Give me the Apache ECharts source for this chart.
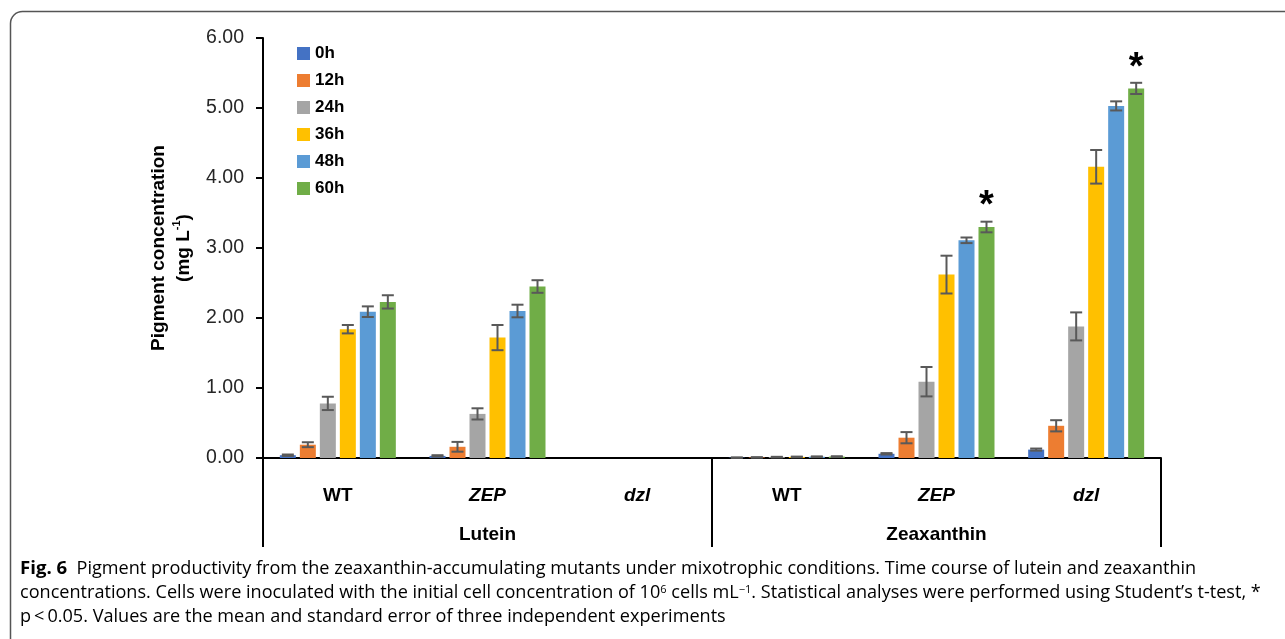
<!DOCTYPE html>
<html>
<head>
<meta charset="utf-8">
<script src="https://cdn.jsdelivr.net/npm/echarts@6/dist/echarts.min.js"></script>
<style>
  html, body { margin: 0; padding: 0; background: #fff; }
  #main { width: 1285px; height: 639px; }
</style>
</head>
<body>
<div id="main"></div>
<script>
// categories: Lutein (WT, ZEP, dzl), Zeaxanthin (WT, ZEP, dzl)
var strains = ['WT', 'ZEP', 'dzl', 'WT', 'ZEP', 'dzl'];
var pigments = ['Lutein', 'Zeaxanthin'];
var times = ['0h', '12h', '24h', '36h', '48h', '60h'];
var yTicks = [0, 1, 2, 3, 4, 5, 6];

var h0  = [0.04, 0.03, 0, 0.005, 0.06, 0.12];
var h12 = [0.19, 0.16, 0, 0.008, 0.29, 0.46];
var h24 = [0.78, 0.63, 0, 0.012, 1.09, 1.88];
var h36 = [1.84, 1.72, 0, 0.015, 2.62, 4.16];
var h48 = [2.09, 2.10, 0, 0.018, 3.11, 5.03];
var h60 = [2.23, 2.45, 0, 0.02, 3.30, 5.28];

var e0  = [0.01, 0.01, 0, 0.004, 0.01, 0.015];
var e12 = [0.035, 0.07, 0, 0.004, 0.08, 0.08];
var e24 = [0.095, 0.08, 0, 0.005, 0.21, 0.2];
var e36 = [0.06, 0.18, 0, 0.005, 0.27, 0.24];
var e48 = [0.076, 0.09, 0, 0.005, 0.04, 0.065];
var e60 = [0.095, 0.09, 0, 0.005, 0.076, 0.08];

var stars = ['', '', '', '', '*', '*'];

var colors = ['#4472C4', '#ED7D31', '#A5A5A5', '#FFC000', '#5B9BD5', '#70AD47'];
var values = [h0, h12, h24, h36, h48, h60];
var errors = [e0, e12, e24, e36, e48, e60];

var BAR_W = 16, BAR_STEP = 20;

var myChart = echarts.init(document.getElementById('main'));

var series = [];
times.forEach(function (t, i) {
    var s = {
        name: t,
        type: 'bar',
        data: values[i],
        barWidth: BAR_W,
        barGap: '25%',
        itemStyle: { color: colors[i] },
        z: 2
    };
    if (i === times.length - 1) {
        s.label = {
            show: true,
            position: 'top',
            distance: 1,
            formatter: function (p) { return stars[p.dataIndex]; },
            fontFamily: 'Liberation Sans',
            fontWeight: 'bold',
            fontSize: 38,
            lineHeight: 38,
            color: '#000'
        };
    }
    series.push(s);
});

times.forEach(function (t, i) {
    var d = values[i].map(function (v, k) { return [k, v, errors[i][k]]; });
    series.push({
        name: 'err ' + t,
        type: 'custom',
        silent: true,
        z: 5,
        data: d,
        renderItem: function (params, api) {
            var k = api.value(0), v = api.value(1), e = api.value(2);
            if (!e) return null;
            var off = (i - 2.5) * BAR_STEP;
            var hi = api.coord([k, v + e]);
            var lo = api.coord([k, v - e]);
            var x = hi[0] + off, cw = 6;
            var st = { stroke: '#595959', lineWidth: 2 };
            return {
                type: 'group',
                children: [
                    { type: 'line', shape: { x1: x, y1: hi[1], x2: x, y2: lo[1] }, style: st },
                    { type: 'line', shape: { x1: x - cw, y1: hi[1], x2: x + cw, y2: hi[1] }, style: st },
                    { type: 'line', shape: { x1: x - cw, y1: lo[1], x2: x + cw, y2: lo[1] }, style: st }
                ]
            };
        }
    });
});

var capFont = 'Open Sans';
var capStyle = { fontFamily: capFont, fontSize: 18.1, color: '#231f20' };

var option = {
    backgroundColor: '#fff',
    animation: false,
    color: colors,
    grid: { left: 263, right: 124, top: 38, bottom: 181, containLabel: false },
    legend: {
        data: times,
        orient: 'vertical',
        left: 292,
        top: 40,
        itemWidth: 13,
        itemHeight: 13,
        itemGap: 10,
        icon: 'rect',
        textStyle: { fontFamily: 'Liberation Sans', fontWeight: 'bold', fontSize: 17, color: '#000' }
    },
    xAxis: [
        {
            type: 'category',
            data: strains,
            position: 'bottom',
            axisLine: { lineStyle: { color: '#000', width: 2 } },
            axisTick: { show: false },
            axisLabel: {
                margin: 28,
                formatter: function (v) {
                    return v === 'WT' ? '{n|' + v + '}' : '{i|' + v + '}';
                },
                rich: {
                    n: { fontFamily: 'Liberation Sans', fontWeight: 'bold', fontSize: 19, color: '#000' },
                    i: { fontFamily: 'Liberation Sans', fontWeight: 'bold', fontStyle: 'italic', fontSize: 19, color: '#000' }
                }
            }
        },
        {
            type: 'category',
            data: pigments,
            position: 'bottom',
            offset: 0,
            axisLine: { show: false },
            axisTick: { show: true, length: 89, lineStyle: { color: '#000', width: 2 } },
            axisLabel: {
                margin: 67,
                fontFamily: 'Liberation Sans',
                fontWeight: 'bold',
                fontSize: 19,
                color: '#000'
            }
        }
    ],
    yAxis: {
        type: 'value',
        min: yTicks[0],
        max: yTicks[yTicks.length - 1],
        interval: 1,
        splitLine: { show: false },
        axisLine: { show: true, lineStyle: { color: '#000', width: 2 } },
        axisTick: { show: true, length: 7, lineStyle: { color: '#000', width: 2 } },
        axisLabel: {
            margin: 19,
            fontFamily: 'Liberation Sans',
            fontSize: 19.5,
            color: '#262626',
            formatter: function (v) { return v.toFixed(2); }
        },
        name: '{b|Pigment concentration}\n{b|(mg L}{s|-1}{b|)}',
        nameLocation: 'middle',
        nameGap: 67,
        nameTextStyle: {
            rich: {
                b: { fontFamily: 'Liberation Sans', fontWeight: 'bold', fontSize: 19, color: '#000', lineHeight: 25 },
                s: { fontFamily: 'Liberation Sans', fontWeight: 'bold', fontSize: 11, color: '#000', verticalAlign: 'top', lineHeight: 25 }
            }
        }
    },
    graphic: [
        {
            type: 'rect',
            shape: { x: 10.5, y: 11.5, width: 1400, height: 800, r: 12 },
            style: { fill: 'none', stroke: '#555', lineWidth: 1.5 },
            silent: true
        },
        {
            type: 'text',
            left: 20,
            top: 559,
            style: Object.assign({
                text: '{b|Fig. 6}  Pigment productivity from the zeaxanthin-accumulating mutants under mixotrophic conditions. Time course of lutein and zeaxanthin',
                rich: { b: { fontFamily: capFont, fontWeight: 'bold', fontSize: 18.6, color: '#231f20' } }
            }, capStyle)
        },
        {
            type: 'text',
            left: 20,
            top: 584,
            style: Object.assign({
                text: 'concentrations. Cells were inoculated with the initial cell concentration of 10{s|6} cells mL{s|\u22121}. Statistical analyses were performed using Student\u2019s t-test, *',
                rich: { s: { fontFamily: capFont, fontSize: 11, color: '#231f20', verticalAlign: 'top' } }
            }, capStyle)
        },
        {
            type: 'text',
            left: 20,
            top: 608,
            style: Object.assign({
                text: 'p\u2009<\u20090.05. Values are the mean and standard error of three independent experiments'
            }, capStyle)
        }
    ],
    series: series
};

myChart.setOption(option);
</script>
</body>
</html>
